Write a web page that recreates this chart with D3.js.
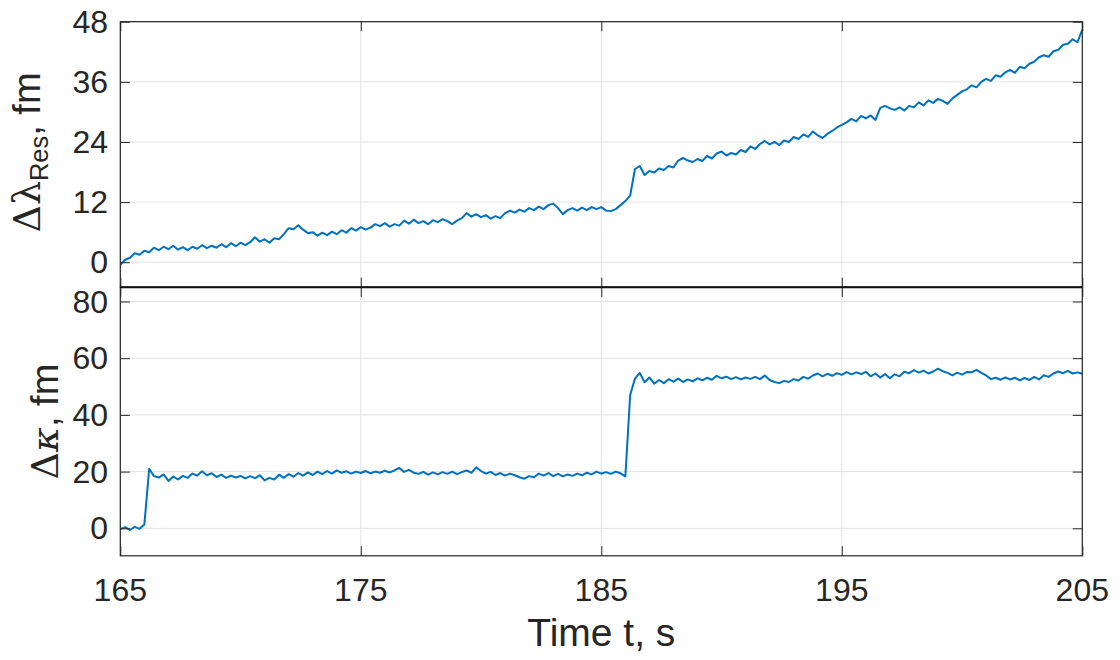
<!DOCTYPE html>
<html>
<head>
<meta charset="utf-8">
<script src="https://cdn.jsdelivr.net/npm/d3@7"></script>
<style>
  html, body { margin: 0; padding: 0; background: #fff; }
  svg { display: block; }
  text { font-family: "Liberation Sans", Arial, Helvetica, sans-serif; fill: #262626; }
</style>
</head>
<body>
<svg id="chart" width="1120" height="660"></svg>
<script>
// Sampling: one value every 0.2 s from t = 165 s to t = 205 s
const tStart = 165;
const tStep = 0.2;

// Resonance wavelength shift, fm
const lambdaShift = [
  -0.5, 0.5, 0.9, 1.8, 1.5, 2.3, 2.0, 2.9, 2.4, 3.1,
  2.6, 3.3, 2.5, 3.0, 2.4, 3.1, 2.7, 3.4, 2.8, 3.3,
  2.9, 3.6, 3.0, 3.8, 3.2, 3.9, 3.4, 4.0, 5.0, 4.1,
  4.6, 3.9, 4.8, 4.6, 5.6, 6.8, 6.6, 7.4, 6.5, 5.8,
  6.0, 5.3, 5.9, 5.4, 6.1, 5.6, 6.4, 5.9, 6.8, 6.3,
  7.0, 6.5, 6.9, 7.6, 7.2, 7.8, 7.1, 7.6, 7.3, 8.3,
  7.7, 8.5, 7.8, 8.2, 7.6, 8.4, 8.0, 8.6, 8.2, 7.6,
  8.3, 8.8, 9.8, 9.1, 9.6, 9.0, 9.4, 8.7, 9.2, 8.8,
  9.8, 10.3, 9.9, 10.5, 10.1, 10.8, 10.4, 11.1, 10.6, 11.4,
  11.7, 10.8, 9.6, 10.4, 10.8, 10.3, 10.9, 10.4, 11.0, 10.6,
  11.0, 10.3, 10.2, 10.6, 11.4, 12.2, 13.3, 18.6, 19.2, 17.4,
  18.2, 17.9, 18.7, 18.4, 19.2, 18.9, 20.3, 20.8, 20.3, 20.0,
  20.6, 20.2, 21.2, 20.7, 21.7, 22.1, 21.3, 21.8, 21.5, 22.4,
  22.0, 23.1, 22.6, 23.6, 24.2, 23.5, 24.0, 23.4, 24.3, 24.0,
  25.0, 24.6, 25.5, 25.0, 26.1, 25.3, 24.8, 25.6, 26.2, 26.9,
  27.4, 27.9, 28.6, 28.1, 29.2, 28.7, 29.3, 28.4, 30.8, 31.2,
  30.7, 30.4, 30.9, 30.3, 31.2, 30.9, 31.9, 31.3, 32.3, 31.8,
  32.6, 32.2, 31.6, 32.7, 33.4, 34.1, 34.5, 35.3, 34.9, 36.0,
  36.6, 36.2, 37.3, 37.0, 37.9, 38.4, 37.8, 39.0, 38.7, 39.6,
  40.0, 40.9, 41.3, 41.0, 42.1, 42.4, 43.4, 43.6, 44.5, 43.9,
  46.4
];

// Linewidth shift, fm
const kappaShift = [
  -0.3, 0.4, -0.6, 0.5, -0.2, 1.3, 21.0, 18.4, 17.9, 19.0,
  16.7, 18.3, 17.2, 18.5, 17.8, 19.3, 18.6, 20.1, 18.7, 19.4,
  18.1, 18.9, 17.8, 18.6, 17.9, 18.5, 17.6, 18.4, 17.7, 18.7,
  16.9, 17.8, 17.2, 18.9, 17.8, 19.1, 18.2, 19.5, 18.6, 19.7,
  18.8, 20.0, 19.1, 20.2, 19.3, 20.4, 19.6, 20.1, 19.3, 20.0,
  19.5, 20.2, 19.4, 20.0, 19.6, 20.3, 19.7, 20.4, 21.3, 19.9,
  20.6, 19.6, 19.2, 19.9, 18.9, 19.7, 19.0, 19.8, 19.2, 20.0,
  19.1, 19.8, 20.4, 19.6, 21.5, 20.2, 19.3, 19.9, 18.8, 19.5,
  18.6, 19.3, 18.7, 18.0, 17.5, 18.4, 18.0, 19.3, 18.6, 19.5,
  18.4, 19.2, 18.3, 19.0, 18.5, 19.3, 18.7, 19.6, 19.0, 20.0,
  19.3, 19.8, 19.2, 20.0, 19.4, 18.3, 47.0, 52.8, 54.8, 51.5,
  53.2, 51.0, 52.3, 51.2, 52.6, 51.7, 52.8, 51.6, 52.5, 51.8,
  52.9, 52.2, 53.1, 52.4, 53.8, 52.9, 53.5, 52.6, 53.3, 52.5,
  53.2, 52.7, 53.4, 52.6, 53.9, 52.3, 51.6, 51.2, 52.0, 51.6,
  52.6, 52.1, 53.4, 52.8, 53.9, 54.6, 53.6, 54.5, 53.8, 54.7,
  54.1, 55.1, 54.3, 55.0, 54.4, 55.2, 53.6, 54.6, 53.2, 54.4,
  52.9, 54.3, 53.6, 55.2, 54.7, 55.8, 54.9, 55.6, 54.6, 55.3,
  56.3, 55.4, 54.8, 53.9, 54.9, 54.2, 55.1, 55.0, 55.9, 54.8,
  53.9, 52.6, 53.1, 52.4, 53.2, 52.5, 53.1, 52.2, 53.0, 52.3,
  53.4, 52.5, 54.0, 53.4, 54.6, 55.3, 54.7, 55.5, 54.6, 55.0,
  54.5
];

// Axis ticks
const timeTicks = [165, 175, 185, 195, 205];
const lambdaTicks = [0, 12, 24, 36, 48];
const kappaTicks = [0, 20, 40, 60, 80];

const svg = d3.select("#chart");
const margin = { left: 120.3, right: 1082.3 };
const topPanel = { y0: 21.7, y1: 287.3, domain: [-5, 48] };
const botPanel = { y0: 287.3, y1: 555.8, domain: [-9.7, 85] };

const x = d3.scaleLinear().domain([165, 205]).range([margin.left, margin.right]);

const axisColor = "#262626";
const gridColor = "#e3e3e3";
const lineColor = "#0072BD";
const tickLen = 9.6;
const tickFont = 32;

function drawPanel(panel, values, yTicks, showXLabels) {
  const y = d3.scaleLinear().domain(panel.domain).range([panel.y1, panel.y0]);
  const g = svg.append("g");

  // grid
  g.append("g").selectAll("line.gx").data(timeTicks).join("line")
    .attr("x1", d => x(d)).attr("x2", d => x(d))
    .attr("y1", panel.y0).attr("y2", panel.y1)
    .attr("stroke", gridColor).attr("stroke-width", 1);
  g.append("g").selectAll("line.gy").data(yTicks).join("line")
    .attr("x1", margin.left).attr("x2", margin.right)
    .attr("y1", d => y(d)).attr("y2", d => y(d))
    .attr("stroke", gridColor).attr("stroke-width", 1);

  // data trace
  const line = d3.line()
    .x((d, i) => x(tStart + i * tStep))
    .y(d => y(d));
  g.append("path").datum(values)
    .attr("d", line)
    .attr("fill", "none")
    .attr("stroke", lineColor)
    .attr("stroke-width", 2)
    .attr("stroke-linejoin", "round");

  // inward ticks on all four sides
  const axL = d3.axisRight(y).tickValues(yTicks).tickSize(tickLen).tickFormat("");
  const axR = d3.axisLeft(y).tickValues(yTicks).tickSize(tickLen).tickFormat("");
  const axB = d3.axisTop(x).tickValues(timeTicks).tickSize(tickLen).tickFormat("");
  const axT = d3.axisBottom(x).tickValues(timeTicks).tickSize(tickLen).tickFormat("");
  [[axL, `translate(${margin.left},0)`], [axR, `translate(${margin.right},0)`],
   [axB, `translate(0,${panel.y1})`], [axT, `translate(0,${panel.y0})`]].forEach(([ax, tr]) => {
    const a = g.append("g").attr("transform", tr).call(ax);
    a.select(".domain").remove();
    a.selectAll(".tick line").attr("stroke", axisColor).attr("stroke-width", 1);
  });

  // y tick labels
  g.append("g").selectAll("text").data(yTicks).join("text")
    .attr("x", 108).attr("y", d => y(d))
    .attr("dy", "0.35em")
    .attr("text-anchor", "end")
    .attr("font-size", tickFont)
    .text(d => d);

  if (showXLabels) {
    g.append("g").selectAll("text").data(timeTicks).join("text")
      .attr("x", d => x(d)).attr("y", 601)
      .attr("text-anchor", "middle")
      .attr("font-size", tickFont)
      .text(d => d);
  }

  // frame
  g.append("rect")
    .attr("x", margin.left).attr("y", panel.y0)
    .attr("width", margin.right - margin.left).attr("height", panel.y1 - panel.y0)
    .attr("fill", "none").attr("stroke", axisColor).attr("stroke-width", 1.2);
  return y;
}

drawPanel(topPanel, lambdaShift, lambdaTicks, false);
drawPanel(botPanel, kappaShift, kappaTicks, true);

// shared border between the two panels
svg.append("line")
  .attr("x1", margin.left).attr("x2", margin.right)
  .attr("y1", topPanel.y1).attr("y2", topPanel.y1)
  .attr("stroke", "#111").attr("stroke-width", 2);

// axis titles
const labelFont = 38;
const yl1 = svg.append("text")
  .attr("transform", `translate(40,${(topPanel.y0 + topPanel.y1) / 2 - 2}) rotate(-90)`)
  .attr("text-anchor", "middle")
  .attr("font-size", labelFont);
yl1.append("tspan").attr("font-family", "'DejaVu Serif', serif").attr("font-size", labelFont).text("Δλ");
yl1.append("tspan").attr("font-size", labelFont * 0.67).attr("dy", "0.3em").text("Res");
yl1.append("tspan").attr("dy", "-0.2em").text(", fm");

const yl2 = svg.append("text")
  .attr("transform", `translate(58,${(botPanel.y0 + botPanel.y1) / 2}) rotate(-90)`)
  .attr("text-anchor", "middle")
  .attr("font-size", labelFont);
yl2.append("tspan").attr("font-family", "'DejaVu Serif', serif").attr("font-size", labelFont).text("Δ");
yl2.append("tspan").attr("font-family", "'DejaVu Serif', serif").attr("font-style", "italic").attr("font-size", labelFont).text("κ");
yl2.append("tspan").text(", fm");

svg.append("text")
  .attr("x", (margin.left + margin.right) / 2)
  .attr("y", 646)
  .attr("text-anchor", "middle")
  .attr("font-size", 39)
  .text("Time t, s");
</script>
</body>
</html>
